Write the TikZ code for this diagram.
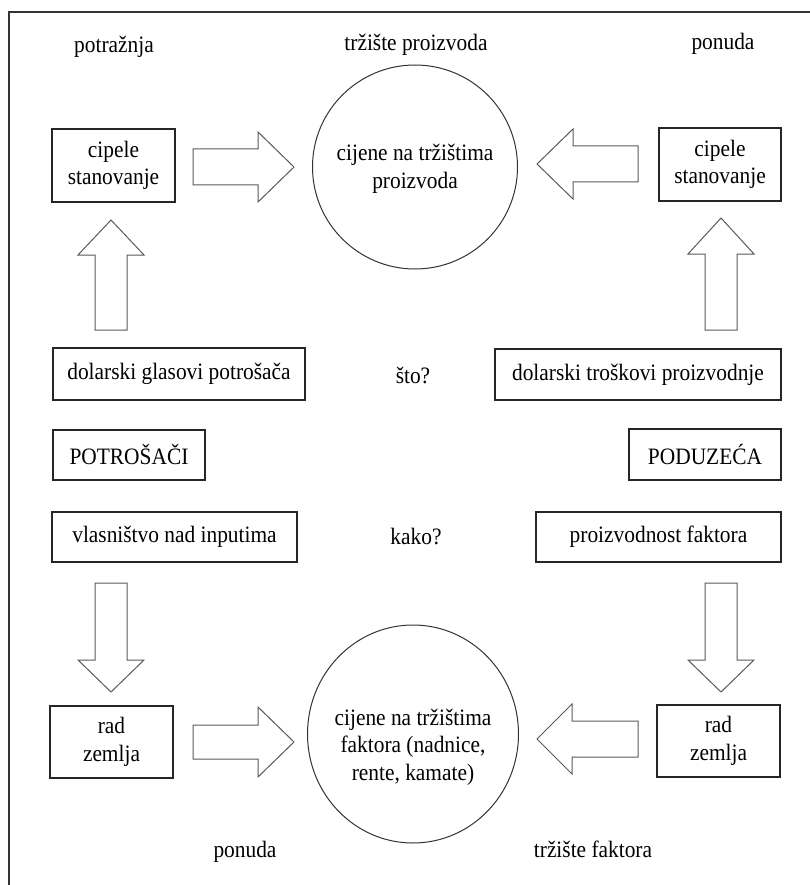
\documentclass[tikz,border=0pt]{standalone}
\usepackage{fontspec}
\setmainfont{Liberation Serif}[FakeStretch=0.91]
\usetikzlibrary{shapes.geometric}
\newcommand{\blockarr}[7]{%
\begin{scope}[shift={(#1,#2)},rotate=#3]
\draw[arrowline] (0,-#5) -- ({#4-#7},-#5) -- ({#4-#7},-#6) -- (#4,0) -- ({#4-#7},#6) -- ({#4-#7},#5) -- (0,#5) -- cycle;
\end{scope}}
\begin{document}
\begin{tikzpicture}[x=1pt,y=-1pt,
  every node/.style={font=\fontsize{23.5}{27.5}\selectfont},
  box/.style={draw=black!85, line width=1.4pt, inner sep=0pt, align=center},
  txt/.style={inner sep=0pt, align=center},
  circ/.style={draw=black!80, line width=1pt, ellipse, inner sep=0pt},
  arrowline/.style={draw=black!65, line width=1pt, line join=miter}]
\useasboundingbox (0,0) rectangle (810,885);
% frame
\draw[line width=1.5pt, black!80] (9,890) -- (9,12) -- (815,12);
% free labels
\node[txt] (lpot) at (114,47) {potražnja};
\node[txt] (ltp) at (416,45) {tržište proizvoda};
\node[txt] (lpon1) at (723,44) {ponuda};
\node[txt] (lsto) at (413,375) {što?};
\node[txt] (lkako) at (416,537) {kako?};
\node[txt] (lpon2) at (245,852) {ponuda};
\node[txt] (ltf) at (593,849) {tržište faktora};
% markets
\node[circ, minimum width=205pt, minimum height=204pt] (m1) at (415,167) {};
\node[txt] (m1t) at (415,169) {cijene na tržištima\\proizvoda};
\node[circ, minimum width=211pt, minimum height=218pt] (m2) at (413,734) {};
\node[txt] (m2t) at (413,747) {cijene na tržištima\\faktora (nadnice,\\rente, kamate)};
% boxes
\node[box, minimum width=123pt, minimum height=73pt] (c1) at (113.5,165.5) {cipele\\stanovanje};
\node[box, minimum width=122pt, minimum height=73pt] (c2) at (720,164.5) {cipele\\stanovanje};
\node[box, minimum width=252pt, minimum height=52pt] (d1) at (179,374) {dolarski glasovi potrošača};
\node[box, minimum width=286pt, minimum height=51pt] (d2) at (638,374.5) {dolarski troškovi proizvodnje};
\node[box, minimum width=152pt, minimum height=50pt] (p1) at (129,455) {POTROŠAČI};
\node[box, minimum width=152pt, minimum height=51pt] (p2) at (705,454.5) {PODUZEĆA};
\node[box, minimum width=245pt, minimum height=50pt] (v1) at (174.5,537) {vlasništvo nad inputima};
\node[box, minimum width=245pt, minimum height=50pt] (v2) at (658.5,537) {proizvodnost faktora};
\node[box, minimum width=123pt, minimum height=72pt] (r1) at (111.5,742) {rad\\zemlja};
\node[box, minimum width=123pt, minimum height=72pt] (r2) at (718.5,741) {rad\\zemlja};
% block arrows
\blockarr{193}{167}{0}{101}{18}{35}{36}
\blockarr{638}{164}{180}{101}{18}{35}{36}
\blockarr{111}{330}{90}{110}{16}{33}{35}
\blockarr{721}{330}{90}{112}{16}{33}{36}
\blockarr{111}{583}{-90}{109}{16}{33}{32}
\blockarr{721}{583}{-90}{109}{16}{33}{32}
\blockarr{193}{742}{0}{101}{17}{35}{36}
\blockarr{638}{739}{180}{101}{18}{35}{35}
\end{tikzpicture}
\end{document}
